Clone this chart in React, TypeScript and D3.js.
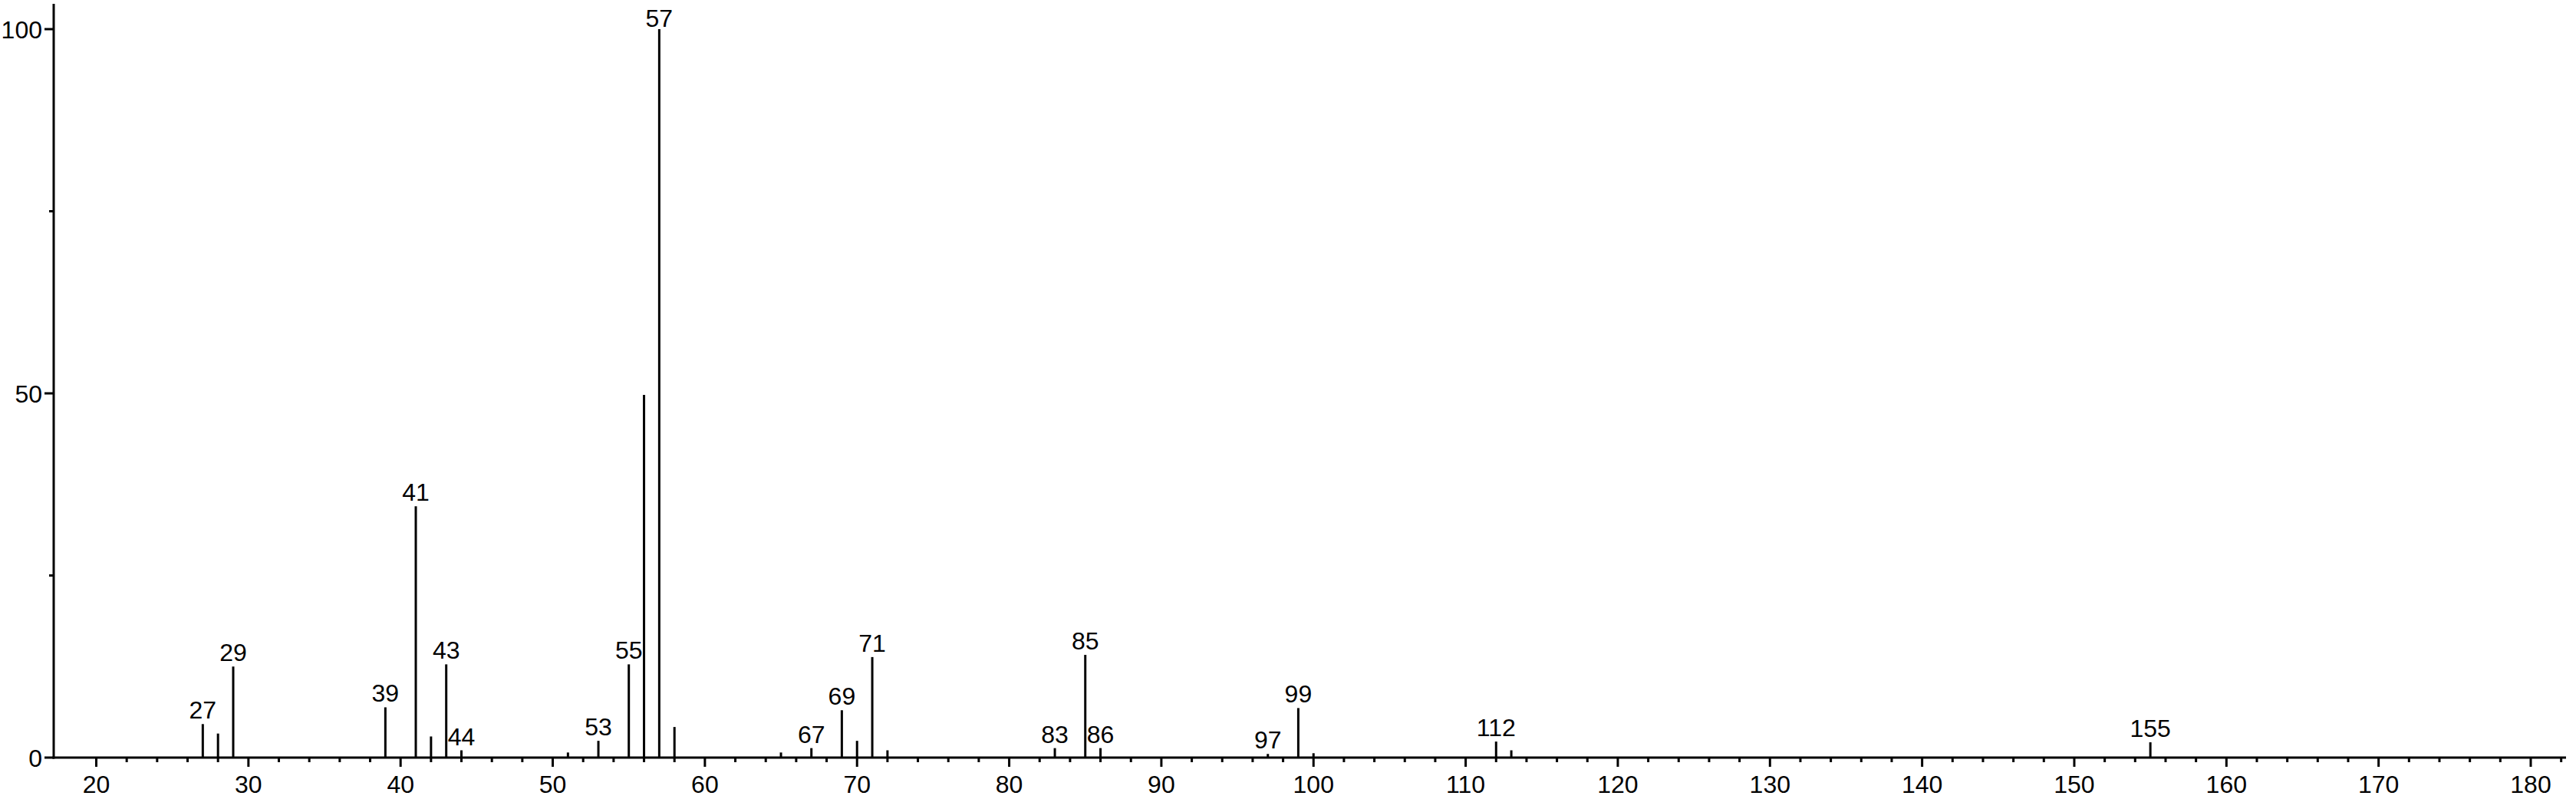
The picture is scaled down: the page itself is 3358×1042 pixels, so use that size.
import React from "react";
import * as d3 from "d3";

const mz = [27, 28, 29, 39, 41, 42, 43, 44, 51, 53, 55, 56, 57, 58, 65, 67, 69, 70, 71, 72, 83, 85, 86, 97, 99, 100, 112, 113, 155];
const intensity = [4.6, 3.3, 12.5, 6.9, 34.5, 2.9, 12.8, 1.0, 0.7, 2.3, 12.8, 49.8, 100, 4.2, 0.7, 1.3, 6.5, 2.3, 13.8, 1.0, 1.3, 14.1, 1.3, 0.5, 6.8, 0.6, 2.2, 1.0, 2.1];
const labeledPeaks = [27, 29, 39, 41, 43, 44, 53, 55, 57, 67, 69, 71, 83, 85, 86, 97, 99, 112, 155];
const xMajorTicks = [20, 30, 40, 50, 60, 70, 80, 90, 100, 110, 120, 130, 140, 150, 160, 170, 180];
const yMajorTicks = [0, 50, 100];
const yMinorTicks = [25, 75];

const W = 3358;
const H = 1042;
const FONT = "'Liberation Sans', Arial, Helvetica, sans-serif";

export default function App() {
  const x = d3.scaleLinear().domain([20, 180]).range([125.5, 3299]);
  const y = d3.scaleLinear().domain([0, 100]).range([988, 38]);
  const axisLeft = 70;
  const axisRight = 3345;
  const axisTop = 5;
  const y0 = y(0);

  const xMinor = d3.range(20, 183, 2).filter((v) => v % 10 !== 0);
  const peaks = mz.map((m, i) => ({ m, v: intensity[i] }));

  return (
    <svg
      width={W}
      height={H}
      style={{ position: "absolute", left: 0, top: 0, background: "#fff" }}
      fontFamily={FONT}
    >
      <rect x={0} y={0} width={W} height={H} fill="#fff" />
      {peaks.map((p) => (
        <line
          key={"p" + p.m}
          x1={x(p.m)}
          x2={x(p.m)}
          y1={y0}
          y2={y(p.v)}
          stroke="#000"
          strokeWidth={3}
        />
      ))}
      {peaks
        .filter((p) => labeledPeaks.includes(p.m))
        .map((p) => (
          <text
            key={"l" + p.m}
            x={x(p.m)}
            y={Math.max(35, y(p.v) - 7)}
            textAnchor="middle"
            fontSize={32}
            fill="#000"
          >
            {p.m}
          </text>
        ))}
      <line x1={axisLeft - 1.5} x2={axisRight} y1={y0} y2={y0} stroke="#000" strokeWidth={3} />
      {xMajorTicks.map((t) => (
        <g key={"xt" + t}>
          <line x1={x(t)} x2={x(t)} y1={y0} y2={y0 + 12} stroke="#000" strokeWidth={3} />
          <text x={x(t)} y={1034} textAnchor="middle" fontSize={32} fill="#000">
            {t}
          </text>
        </g>
      ))}
      {xMinor.map((t) => (
        <line key={"xm" + t} x1={x(t)} x2={x(t)} y1={y0} y2={y0 + 6} stroke="#000" strokeWidth={3} />
      ))}
      <line x1={axisLeft} x2={axisLeft} y1={axisTop} y2={y0 + 1.5} stroke="#000" strokeWidth={3} />
      {yMajorTicks.map((t) => (
        <g key={"yt" + t}>
          <line x1={axisLeft - 12} x2={axisLeft} y1={y(t)} y2={y(t)} stroke="#000" strokeWidth={3} />
          <text x={axisLeft - 15} y={y(t) + 11.5} textAnchor="end" fontSize={32} fill="#000">
            {t}
          </text>
        </g>
      ))}
      {yMinorTicks.map((t) => (
        <line key={"ym" + t} x1={axisLeft - 6} x2={axisLeft} y1={y(t)} y2={y(t)} stroke="#000" strokeWidth={3} />
      ))}
    </svg>
  );
}
